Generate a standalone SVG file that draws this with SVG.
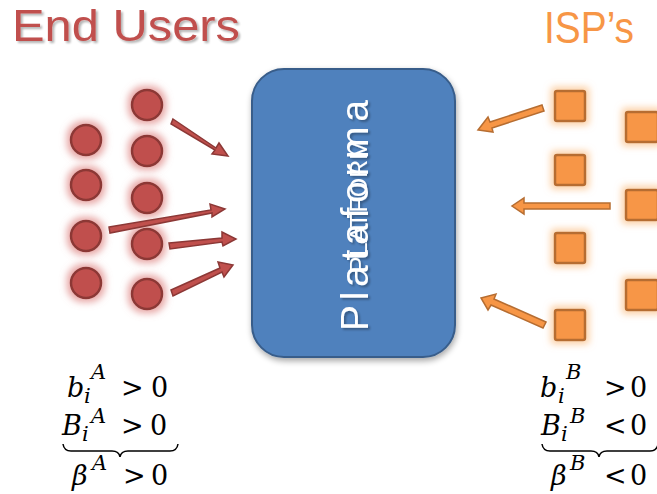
<svg xmlns="http://www.w3.org/2000/svg" width="657" height="494" viewBox="0 0 657 494">
<defs>
<filter id="glowR" x="-60%" y="-60%" width="220%" height="220%">
<feMorphology in="SourceAlpha" operator="dilate" radius="3" result="d"/>
<feGaussianBlur in="d" stdDeviation="3.5" result="b"/>
<feFlood flood-color="#e08a88" flood-opacity="0.75"/>
<feComposite in2="b" operator="in" result="g"/>
<feMerge><feMergeNode in="g"/><feMergeNode in="SourceGraphic"/></feMerge>
</filter>
<filter id="glowO" x="-60%" y="-60%" width="220%" height="220%">
<feMorphology in="SourceAlpha" operator="dilate" radius="3" result="d"/>
<feGaussianBlur in="d" stdDeviation="3.5" result="b"/>
<feFlood flood-color="#fbc48f" flood-opacity="0.8"/>
<feComposite in2="b" operator="in" result="g"/>
<feMerge><feMergeNode in="g"/><feMergeNode in="SourceGraphic"/></feMerge>
</filter>
<filter id="shadow" x="-20%" y="-20%" width="140%" height="140%">
<feGaussianBlur in="SourceAlpha" stdDeviation="3"/>
<feOffset dx="1" dy="3" result="o"/>
<feComponentTransfer><feFuncA type="linear" slope="0.35"/></feComponentTransfer>
<feMerge><feMergeNode/><feMergeNode in="SourceGraphic"/></feMerge>
</filter>
<filter id="tshadow" x="-10%" y="-10%" width="120%" height="130%">
<feGaussianBlur in="SourceAlpha" stdDeviation="1.2"/>
<feOffset dx="1.5" dy="1.5"/>
<feComponentTransfer><feFuncA type="linear" slope="0.3"/></feComponentTransfer>
<feMerge><feMergeNode/><feMergeNode in="SourceGraphic"/></feMerge>
</filter>
</defs>
<style>
.title{font-family:"Liberation Sans","Open Sans",sans-serif;font-size:44px;}
.user{fill:#c0504d;stroke:#8c3836;stroke-width:2.5;filter:url(#glowR);}
.isp{fill:#f79646;stroke:#b66d31;stroke-width:2.5;filter:url(#glowO);}
.ra{fill:#c0504d;stroke:#8c3836;stroke-width:1.5;}
.oa{fill:#f79646;stroke:#b66d31;stroke-width:1.5;}
.math{font-family:"DejaVu Serif","Liberation Serif",serif;font-style:italic;font-size:27px;fill:#000;}
.s{font-size:21px;}
.up{font-style:normal;font-family:"DejaVu Serif","Liberation Serif",serif;}
.brace{fill:none;stroke:#000;stroke-width:1.5;}
</style>

<g id="title-end-users"><text class="title" x="12" y="41" fill="#c0504d" textLength="228" lengthAdjust="spacingAndGlyphs" filter="url(#tshadow)">End Users</text></g>
<g id="title-isps"><text class="title" x="544" y="43" fill="#f79646" textLength="90" lengthAdjust="spacingAndGlyphs">ISP’s</text></g>

<g id="platform" filter="url(#shadow)">
<rect x="252" y="69" width="203" height="288" rx="32" ry="32" fill="#4f81bd" stroke="#385d8a" stroke-width="2"/>
<g fill="#ffffff" font-family="Liberation Sans, Arial, sans-serif" filter="url(#tshadow)">
<text transform="translate(368,331) rotate(-90)" font-size="39" textLength="231" lengthAdjust="spacing">Plataforma</text>
<text transform="translate(367,273) rotate(-90)" font-size="24" textLength="134" lengthAdjust="spacingAndGlyphs">PLATFORM</text>
</g>
</g>

<g id="end-users">
<circle class="user" cx="86" cy="140" r="15"/>
<circle class="user" cx="86" cy="185" r="15"/>
<circle class="user" cx="86" cy="236" r="15"/>
<circle class="user" cx="86" cy="283" r="15"/>
<circle class="user" cx="147" cy="105" r="15"/>
<circle class="user" cx="147" cy="151" r="15"/>
<circle class="user" cx="147" cy="198" r="15"/>
<circle class="user" cx="147" cy="244" r="15"/>
<circle class="user" cx="147" cy="294" r="15"/>
</g>

<g id="isps">
<rect class="isp" x="555" y="91" width="30" height="30" rx="2"/>
<rect class="isp" x="555" y="155" width="30" height="30" rx="2"/>
<rect class="isp" x="555" y="233" width="30" height="30" rx="2"/>
<rect class="isp" x="555" y="310" width="30" height="30" rx="2"/>
<rect class="isp" x="626" y="112" width="32" height="30" rx="2"/>
<rect class="isp" x="626" y="190" width="32" height="30" rx="2"/>
<rect class="isp" x="626" y="280" width="32" height="30" rx="2"/>
</g>

<g id="connectors">
<path class="ra" d="M173,119 L216,148 L219,143 L228,156 L212,154 L215,150 L171,124 Z"/>
<path class="ra" d="M109,227 L211,210 L210,204 L225,209 L212,217 L212,213 L110,233 Z"/>
<path class="ra" d="M169,243 L222,238 L222,232 L236,239 L223,246 L222,242 L170,249 Z"/>
<path class="ra" d="M171,290 L220,268 L218,262 L233,265 L224,277 L222,272 L173,296 Z"/>
<path class="oa" d="M542,105 L490,122 L488,117 L478,130 L493,132 L492,128 L544,111 Z"/>
<path class="oa" d="M610,203 L524,203 L524,198 L512,206 L524,214 L524,209 L610,209 Z"/>
<path class="oa" d="M546,322 L494,299 L496,294 L481,298 L488,310 L491,305 L543,328 Z"/>
</g>

<g id="math-left">
<text class="math" y="397"><tspan x="67">b</tspan><tspan class="s" x="84" y="403">i</tspan><tspan class="s" x="91" y="379">A</tspan><tspan class="up" x="121" y="397">&gt;</tspan><tspan class="up" x="151" y="397">0</tspan></text>
<text class="math" y="435"><tspan x="62">B</tspan><tspan class="s" x="82" y="441">i</tspan><tspan class="s" x="91" y="423">A</tspan><tspan class="up" x="121" y="435">&gt;</tspan><tspan class="up" x="150" y="435">0</tspan></text>
<path class="brace" d="M63,444 Q64,451 71,451 L112,451 Q119,451 120,457 Q121,451 128,451 L170,451 Q177,451 178,444"/>
<text class="math" y="485"><tspan x="72">β</tspan><tspan class="s" x="92" y="470">A</tspan><tspan class="up" x="123" y="485">&gt;</tspan><tspan class="up" x="151" y="485">0</tspan></text>
</g>

<g id="math-right">
<text class="math" y="397"><tspan x="540">b</tspan><tspan class="s" x="558" y="403">i</tspan><tspan class="s" x="566" y="379">B</tspan><tspan class="up" x="604" y="397">&gt;</tspan><tspan class="up" x="630" y="397">0</tspan></text>
<text class="math" y="435"><tspan x="541">B</tspan><tspan class="s" x="561" y="441">i</tspan><tspan class="s" x="570" y="423">B</tspan><tspan class="up" x="604" y="435">&lt;</tspan><tspan class="up" x="630" y="435">0</tspan></text>
<path class="brace" d="M542,444 Q543,451 550,451 L591,451 Q598,451 599,457 Q600,451 607,451 L650,451 Q657,451 658,444"/>
<text class="math" y="485"><tspan x="551">β</tspan><tspan class="s" x="570" y="470">B</tspan><tspan class="up" x="604" y="485">&lt;</tspan><tspan class="up" x="630" y="485">0</tspan></text>
</g>
</svg>
